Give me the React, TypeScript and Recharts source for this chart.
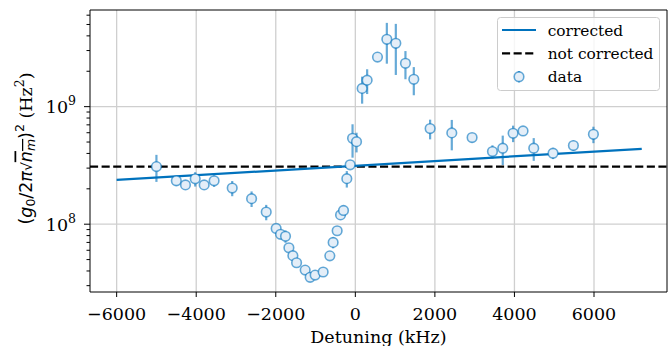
import React from 'react';
import {
  ComposedChart,
  Scatter,
  Line,
  XAxis,
  YAxis,
  CartesianGrid,
  ReferenceLine,
  ReferenceArea,
  ErrorBar,
} from 'recharts';

// ---- data ----
const detuning = [
  -5000, -4500, -4270, -4025, -3800, -3550, -3095, -2608, -2240, -1990,
  -1880, -1755, -1670, -1570, -1477, -1261, -1136, -1010, -809, -641,
  -558, -457, -372, -297, -214, -130, -70, 30, 171, 297,
  557, 792, 1018, 1260, 1470, 1880, 2425, 2935, 3447, 3706,
  3966, 4216, 4485, 4970, 5482, 5985,
];
const coupling = [
  3.09e8, 2.34e8, 2.16e8, 2.43e8, 2.16e8, 2.34e8, 2.03e8, 1.65e8, 1.27e8, 9.2e7,
  8.2e7, 7.9e7, 6.3e7, 5.4e7, 4.7e7, 4.07e7, 3.53e7, 3.69e7, 3.92e7, 5.38e7,
  7.0e7, 8.8e7, 1.2e8, 1.31e8, 2.44e8, 3.2e8, 5.38e8, 5.04e8, 1.43e9, 1.68e9,
  2.64e9, 3.74e9, 3.46e9, 2.34e9, 1.71e9, 6.51e8, 5.98e8, 5.46e8, 4.15e8, 4.43e8,
  5.94e8, 6.21e8, 4.43e8, 4.02e8, 4.67e8, 5.82e8,
];
const couplingErr = [
  8.0e7, 2.1e7, 1.3e7, 3.4e7, 0.9e7, 2.6e7, 3.0e7, 2.5e7, 1.9e7, 0.3e7,
  0.3e7, 0.95e7, 0.5e7, 0.27e7, 0.14e7, 0.12e7, 0.1e7, 0.1e7, 0.12e7, 0.16e7,
  0.77e7, 0.35e7, 0.96e7, 1.3e7, 3.9e7, 1.0e7, 1.7e8, 9.6e7, 3.7e8, 4.0e8,
  0.5e8, 1.42e9, 1.6e9, 6.3e8, 4.6e8, 1.24e8, 1.73e8, 4.9e7, 5.4e7, 1.24e8,
  9.5e7, 5.0e7, 9.7e7, 4.4e7, 4.7e7, 9.3e7,
];
const correctedX = [-6000, 7200];
const correctedY = [2.38e8, 4.38e8];
const notCorrected = 3.09e8;

const xTicks = [-6000, -4000, -2000, 0, 2000, 4000, 6000];
const yTicks = [
  3e7, 4e7, 5e7, 6e7, 7e7, 8e7, 9e7,
  1e8, 2e8, 3e8, 4e8, 5e8, 6e8, 7e8, 8e8, 9e8,
  1e9, 2e9, 3e9, 4e9, 5e9, 6e9,
];
const yMajor = [1e8, 1e9];
const xDomain = [-6670, 7835];
const yDomain = [2.65e7, 6.64e9];

const legendLabels = ['corrected', 'not corrected', 'data'];
const xLabel = 'Detuning (kHz)';

const points = detuning.map((x, i) => ({ x, y: coupling[i], err: couplingErr[i] }));
const correctedData = correctedX.map((x, i) => ({ x, y: correctedY[i] }));

const BLUE = '#0072BD';
const MARK_FILL = '#e4eef8';
const SERIF = '"DejaVu Serif", serif';
const SANS = '"DejaVu Sans", sans-serif';

const fmtX = (v: number) => (v < 0 ? '\u2212' + Math.abs(v) : String(v));

const XTick = (props: any) => {
  const { x, y, payload } = props;
  return (
    <g>
      <line x1={x} x2={x} y1={y} y2={y + 5} stroke="#000" strokeWidth={1} />
      <text x={x} y={y + 27.5} textAnchor="middle" fontFamily={SERIF} fontSize={17.5} fill="#000">
        {fmtX(payload.value)}
      </text>
    </g>
  );
};

const YTick = (props: any) => {
  const { x, y, payload } = props;
  const v = payload.value;
  const major = yMajor.some((m) => Math.abs(m - v) / m < 1e-6);
  const exp = Math.round(Math.log10(v));
  return (
    <g>
      <line x1={x - (major ? 6 : 3.5)} x2={x} y1={y} y2={y} stroke="#000" strokeWidth={1} />
      {major && (
        <text x={x - 14} y={y + 6.5} textAnchor="end" fontFamily={SERIF} fontSize={17.5} fill="#000">
          10
          <tspan dy={-8} fontSize={12.5}>{exp}</tspan>
        </text>
      )}
    </g>
  );
};

const Marker = (props: any) => {
  const { cx, cy } = props;
  if (cx == null || cy == null) return null;
  return (
    <circle cx={cx} cy={cy} r={4.8} fill={MARK_FILL} stroke={BLUE} strokeOpacity={0.6} strokeWidth={1.6} />
  );
};

export default function App() {
  return (
    <div style={{ position: 'absolute', left: 0, top: 0, width: 668, height: 346 }}>
      <ComposedChart width={668} height={346} margin={{ top: 10, right: 1, bottom: 0, left: 0 }}>
        <CartesianGrid
          stroke="#cfcfcf"
          strokeWidth={1.3}
          horizontalValues={yMajor}
          verticalValues={xTicks}
        />
        <XAxis
          type="number"
          dataKey="x"
          domain={xDomain}
          ticks={xTicks}
          interval={0}
          allowDataOverflow
          height={54}
          tickLine={false}
          tickSize={0}
          tickMargin={0}
          axisLine={false}
          tick={(p: any) => <XTick {...p} />}
        />
        <YAxis
          type="number"
          dataKey="y"
          scale="log"
          domain={yDomain}
          ticks={yTicks}
          interval={0}
          allowDataOverflow
          width={90}
          tickLine={false}
          tickSize={0}
          tickMargin={0}
          axisLine={false}
          tick={(p: any) => <YTick {...p} />}
        />
        <ReferenceLine
          y={notCorrected}
          stroke="#000"
          strokeWidth={2.2}
          strokeDasharray="8.1 3.5"
          ifOverflow="visible"
        />
        <Line
          data={correctedData}
          dataKey="y"
          stroke={BLUE}
          strokeWidth={2.2}
          dot={false}
          isAnimationActive={false}
        />
        <Scatter data={points} dataKey="y" shape={(p: any) => <Marker {...p} />} isAnimationActive={false}>
          <ErrorBar
            dataKey="err"
            direction="y"
            width={0}
            stroke={BLUE}
            strokeOpacity={0.6}
            strokeWidth={2.2}
            isAnimationActive={false}
          />
        </Scatter>
        <ReferenceArea
          x1={xDomain[0]}
          x2={xDomain[1]}
          y1={yDomain[0]}
          y2={yDomain[1]}
          fill="none"
          fillOpacity={0}
          stroke="#000"
          strokeWidth={1}
          ifOverflow="visible"
        />
      </ComposedChart>
      <svg
        width={668}
        height={346}
        style={{ position: 'absolute', left: 0, top: 0, pointerEvents: 'none' }}
      >
        {/* y-axis label */}
        <text
          transform="rotate(-90)"
          x={-148.5}
          y={31.5}
          textAnchor="middle"
          fontSize={17.5}
          fill="#000"
          fontFamily={SANS}
        >
          (<tspan fontStyle="italic">g</tspan>
          <tspan dy={3.5} fontSize={12.5}>0</tspan>
          <tspan dy={-3.5}>/2</tspan>
          <tspan fontStyle="italic">π</tspan>
          <tspan fontSize={14}>√</tspan>
          <tspan fontStyle="italic" textDecoration="overline">n</tspan>
          <tspan dy={3.5} fontSize={12.5} fontStyle="italic" textDecoration="overline">m</tspan>
          <tspan dy={-3.5}>)</tspan>
          <tspan dy={-8} fontSize={12.5}>2</tspan>
          <tspan dy={8} fontFamily={SERIF}> (Hz</tspan>
          <tspan dy={-8} fontSize={12.5} fontFamily={SERIF}>2</tspan>
          <tspan dy={8} fontFamily={SERIF}>)</tspan>
        </text>
        {/* x-axis label */}
        <text x={378.5} y={343} textAnchor="middle" fontSize={17.5} fontFamily={SERIF} fill="#000">
          {xLabel}
        </text>
        {/* legend */}
        <rect x={497.5} y={17.5} width={162} height={73} rx={3} fill="#fff" fillOpacity={0.8} stroke="#cccccc" strokeWidth={1} />
        <line x1={502} x2={536} y1={30} y2={30} stroke={BLUE} strokeWidth={2.2} />
        <line x1={502} x2={536} y1={53.3} y2={53.3} stroke="#000" strokeWidth={2.2} strokeDasharray="8.1 3.5" />
        <line x1={519} x2={519} y1={71} y2={82.5} stroke={BLUE} strokeOpacity={0.6} strokeWidth={2.2} />
        <circle cx={519} cy={76.7} r={4.8} fill={MARK_FILL} stroke={BLUE} strokeOpacity={0.6} strokeWidth={1.6} />
        {legendLabels.map((t, i) => (
          <text key={t} x={547.7} y={[35.5, 59, 81.8][i]} fontSize={15.4} fontFamily={SERIF} fill="#000">
            {t}
          </text>
        ))}
      </svg>
    </div>
  );
}
